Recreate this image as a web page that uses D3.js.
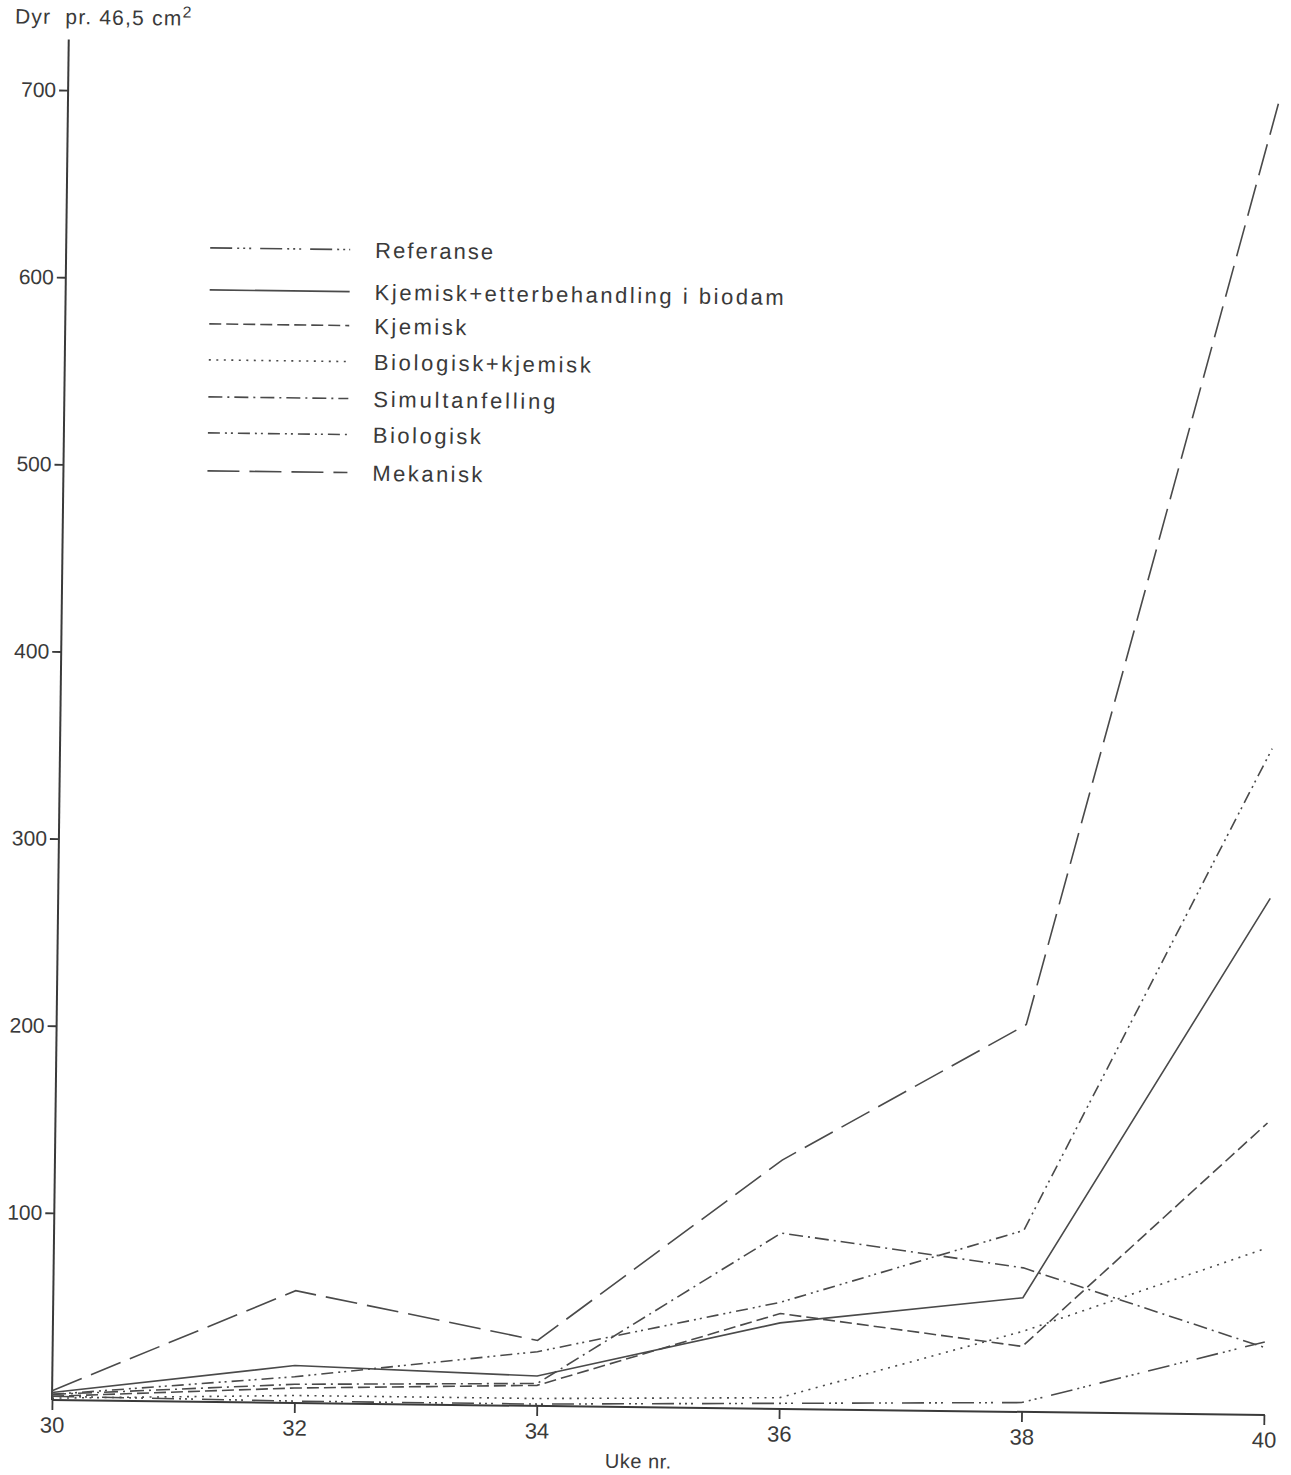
<html>
<head>
    <title>Dyr pr. 46,5 cm2</title>
    <style>
        body {
            margin: 0;
            background-color: #fff;
        }
        text {
            font-family: "Liberation Sans", Arial, sans-serif;
            fill: #3a3a3a;
        }
        .axis text {
            font-size: 21px;
        }
        .axis line {
            stroke: #3a3a3a;
            stroke-width: 1.8px;
        }
        .axis path {
            display: none;
        }
        .line {
            fill: none;
            stroke: #4a4a4a;
            stroke-width: 1.6px;
        }
    </style>
</head>

<body>
    <div id="container"></div>
    <script src="https://d3js.org/d3.v7.min.js"></script>
    <script>
        let width = 1291,
            height = 1475;

        // weeks and tick labels
        let weeks = [30, 32, 34, 36, 38, 40];
        let yTicks = [100, 200, 300, 400, 500, 600, 700];

        // animals per 46,5 cm2
        let referanse = [2, 1, 1, 3, 5, 39];
        let kjemiskEtter = [4, 20, 16, 46, 61, 276];
        let kjemisk = [2, 8, 11, 51, 35, 156];
        let biologiskKjemisk = [1, 4, 4, 6, 43, 89];
        let simultanfelling = [3, 10, 12, 94, 77, 36];
        let biologisk = [3, 14, 29, 57, 97, 356];
        let mekanisk = [5, 60, 35, 133, 207, 704];

        let names = ["Referanse", "Kjemisk+etterbehandling i biodam", "Kjemisk", "Biologisk+kjemisk",
            "Simultanfelling", "Biologisk", "Mekanisk"];
        let values = [referanse, kjemiskEtter, kjemisk, biologiskKjemisk, simultanfelling, biologisk, mekanisk];
        let dashes = ["22,5,2,4,2,4,2,9", null, "12,5", "2,5.5", "14,5,2,5", "12,5,2,4,2,5", "32,10"];
        let labelWidths = [118, 409, 92, 217, 182, 108, 110];

        let series = names.map(function (n, i) {
            return { name: n, dash: dashes[i], w: labelWidths[i],
                pts: weeks.map(function (wk, j) { return { week: wk, v: values[i][j] }; }) };
        });

        let svg = d3.select('#container')
            .append('svg')
            .attr('width', width)
            .attr('height', height);

        // the scanned page is a little bit skewed
        let g = svg.append('g')
            .attr('transform', 'rotate(0.705, 52, 1400)');

        let x = d3.scaleLinear().domain([30, 40]).range([52, 1264]),
            y = d3.scaleLinear().domain([0, 700]).range([1400, 90]);

        // axis lines
        g.append('line')
            .attr('x1', x(30)).attr('x2', x(30))
            .attr('y1', y(0)).attr('y2', y(727))
            .attr('stroke', '#3a3a3a').attr('stroke-width', 2);
        g.append('line')
            .attr('x1', x(30)).attr('x2', x(40) + 1)
            .attr('y1', y(0)).attr('y2', y(0))
            .attr('stroke', '#3a3a3a').attr('stroke-width', 2);

        g.append('g')
            .attr('class', 'axis axis--y')
            .attr('transform', 'translate(' + x(30) + ',0)')
            .call(d3.axisLeft(y).tickValues(yTicks).tickSize(9).tickPadding(3));

        g.append('g')
            .attr('class', 'axis axis--x')
            .attr('transform', 'translate(0,' + y(0) + ')')
            .call(d3.axisBottom(x).tickValues(weeks).tickSize(10).tickPadding(7))
            .selectAll('text').style('font-size', '22px');

        // title and axis name
        g.append('text')
            .attr('x', -2)
            .attr('y', 24)
            .style('font-size', '21px')
            .style('white-space', 'pre')
            .style('letter-spacing', '1.2px')
            .text('Dyr  pr. 46,5 cm')
            .append('tspan')
            .attr('dy', -8)
            .style('font-size', '16px')
            .text('2');

        g.append('text')
            .attr('x', 639)
            .attr('y', 1461)
            .attr('text-anchor', 'middle')
            .style('font-size', '20px')
            .style('letter-spacing', '0.5px')
            .text('Uke nr.');

        // lines
        let line = d3.line()
            .x(function (d) { return x(d.week); })
            .y(function (d) { return y(d.v); });

        g.selectAll('.line')
            .data(series)
            .enter().append('path')
            .attr('class', 'line')
            .attr('d', function (d) { return line(d.pts); })
            .attr('stroke-dasharray', function (d) { return d.dash; });

        // legend
        let rowY = [246, 288, 322, 358, 395, 431, 469];
        let legend = g.selectAll('.legend')
            .data(series)
            .enter().append('g')
            .attr('class', 'legend')
            .attr('transform', function (d, i) { return 'translate(196,' + rowY[i] + ')'; });

        legend.append('line')
            .attr('class', 'line')
            .attr('x1', 0).attr('x2', 140)
            .attr('y1', 0).attr('y2', 0)
            .attr('stroke-dasharray', function (d) { return d.dash; });

        legend.append('text')
            .attr('x', 165)
            .attr('y', 8)
            .style('font-size', '22px')
            .attr('textLength', function (d) { return d.w; })
            .attr('lengthAdjust', 'spacing')
            .text(function (d) { return d.name; });
    </script>
</body>

</html>
